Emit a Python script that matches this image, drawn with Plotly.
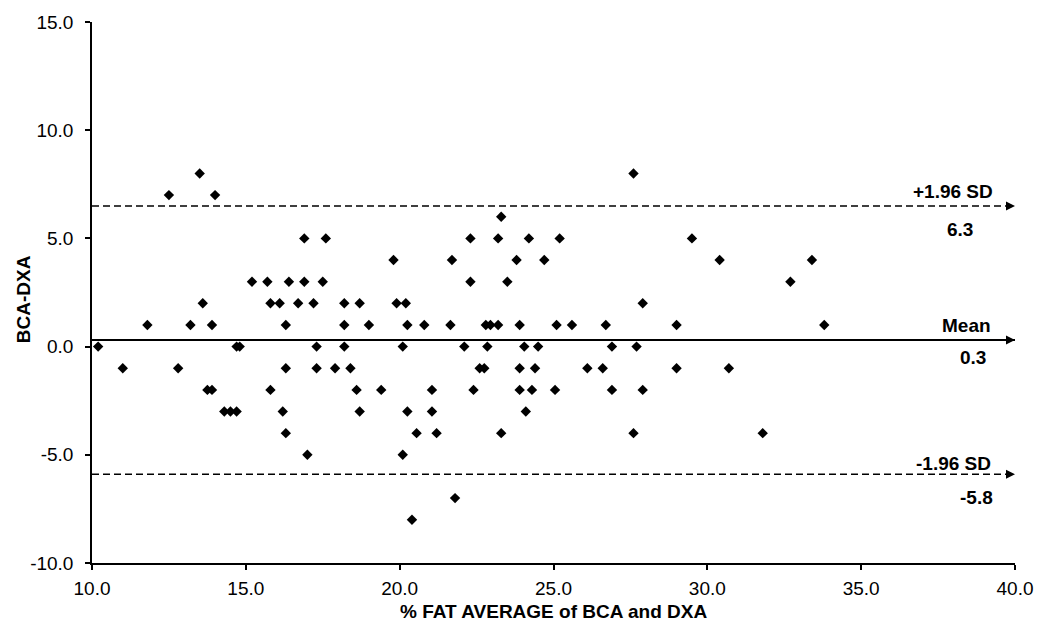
import plotly.graph_objects as go

# Bland-Altman data: (average %fat, BCA-DXA difference)
avg_fat = [
    13.5, 27.6,
    12.5, 14.0,
    23.3,
    16.9, 17.6, 22.3, 23.2, 24.2, 25.2, 29.5,
    19.8, 21.7, 23.8, 24.7, 30.4, 33.4,
    15.2, 15.7, 16.4, 16.9, 17.5, 22.3, 23.5, 32.7,
    13.6, 15.8, 16.1, 16.7, 17.2, 18.2, 18.7, 19.9, 20.2, 27.9,
    11.8, 13.2, 13.9, 16.3, 18.2, 19.0, 20.25, 20.8, 21.65, 22.8, 22.95, 23.2, 23.9, 25.1, 25.6, 26.7, 29.0, 33.8,
    10.2, 14.7, 14.8, 17.3, 18.2, 20.1, 22.1, 22.85, 24.05, 24.5, 26.9, 27.7,
    11.0, 12.8, 16.3, 17.3, 17.9, 18.4, 22.6, 22.75, 23.9, 24.4, 26.1, 26.6, 29.0, 30.7,
    13.75, 13.9, 15.8, 18.6, 19.4, 21.05, 22.4, 23.9, 24.3, 25.05, 26.9, 27.9,
    14.3, 14.5, 14.7, 16.2, 18.7, 20.25, 21.05, 24.1,
    16.3, 20.55, 21.2, 23.3, 27.6, 31.8,
    17.0, 20.1,
    21.8,
    20.4,
]
diff = (
    [8] * 2 + [7] * 2 + [6] * 1 + [5] * 7 + [4] * 6 + [3] * 8 + [2] * 10
    + [1] * 18 + [0] * 12 + [-1] * 14 + [-2] * 12 + [-3] * 8 + [-4] * 6
    + [-5] * 2 + [-7] * 1 + [-8] * 1
)

x_range = [10, 40]
y_range = [-10, 15]
x_ticks = [10, 15, 20, 25, 30, 35, 40]
y_ticks = [-10, -5, 0, 5, 10, 15]

mean_line = 0.3
upper_line = 6.5
lower_line = -5.9
upper_label = ["+1.96 SD", "6.3"]
mean_label = ["Mean", "0.3"]
lower_label = ["-1.96 SD", "-5.8"]
x_title = "% FAT AVERAGE of BCA and DXA"
y_title = "BCA-DXA"

FONT = "Liberation Sans, Arial, Helvetica, sans-serif"

fig = go.Figure()

# reference lines with arrow heads at the right end
for yv, dash, width in [(mean_line, "solid", 2), (upper_line, "7px,4px", 1.5), (lower_line, "7px,4px", 1.5)]:
    fig.add_trace(go.Scatter(
        x=x_range, y=[yv, yv], mode="lines",
        line=dict(color="black", width=width, dash=dash),
        hoverinfo="skip", showlegend=False,
    ))
    fig.add_trace(go.Scatter(
        x=[x_range[1]], y=[yv], mode="markers",
        marker=dict(symbol="arrow-right", size=9, color="black", line=dict(width=0)),
        hoverinfo="skip", showlegend=False, cliponaxis=False,
    ))

fig.add_trace(go.Scatter(
    x=avg_fat, y=diff, mode="markers",
    marker=dict(symbol="diamond", size=8, color="black", line=dict(width=0)),
    showlegend=False,
))

ann_font = dict(family=FONT, size=19, color="black")
ann_specs = [
    (upper_label[0], 39.35, 7.15, "right"),
    (upper_label[1], 38.21, 5.39, "center"),
    (mean_label[0], 39.28, 0.96, "right"),
    (mean_label[1], 38.63, -0.52, "center"),
    (lower_label[0], 39.28, -5.41, "right"),
    (lower_label[1], 38.76, -6.98, "center"),
]
for txt, xx, yy, anchor in ann_specs:
    fig.add_annotation(
        x=xx, y=yy, xref="x", yref="y", text="<b>%s</b>" % txt,
        showarrow=False, xanchor=anchor, yanchor="middle", font=ann_font,
    )

# axis titles
fig.add_annotation(
    x=0.5, y=-0.089, xref="paper", yref="paper", text="<b>%s</b>" % x_title,
    showarrow=False, xanchor="center", yanchor="middle", font=ann_font,
)
fig.add_annotation(
    x=-0.074, y=0.487, xref="paper", yref="paper", text="<b>%s</b>" % y_title,
    showarrow=False, xanchor="center", yanchor="middle", textangle=-90, font=ann_font,
)

fig.update_layout(
    width=1038, height=630,
    margin=dict(l=92, r=23, t=22, b=67, autoexpand=False),
    paper_bgcolor="white", plot_bgcolor="white",
    font=dict(family=FONT, size=19, color="black"),
    showlegend=False,
)
fig.update_xaxes(
    range=x_range, tickvals=x_ticks, ticktext=["%.1f" % v for v in x_ticks],
    showgrid=False, zeroline=False, showline=True, linecolor="black", linewidth=1.5,
    ticks="outside", ticklen=5, tickcolor="black", tickwidth=1.5,
    ticklabelstandoff=2, automargin=False,
)
fig.update_yaxes(
    range=y_range, tickvals=y_ticks, ticktext=["%.1f" % v for v in y_ticks],
    showgrid=False, zeroline=False, showline=True, linecolor="black", linewidth=1.5,
    ticks="outside", ticklen=5, tickcolor="black", tickwidth=1.5,
    ticklabelstandoff=8, automargin=False,
)

fig.write_html(
    "out.html",
    config={"displayModeBar": False},
    post_script="document.body.style.margin='0';document.body.style.overflow='hidden';",
)
